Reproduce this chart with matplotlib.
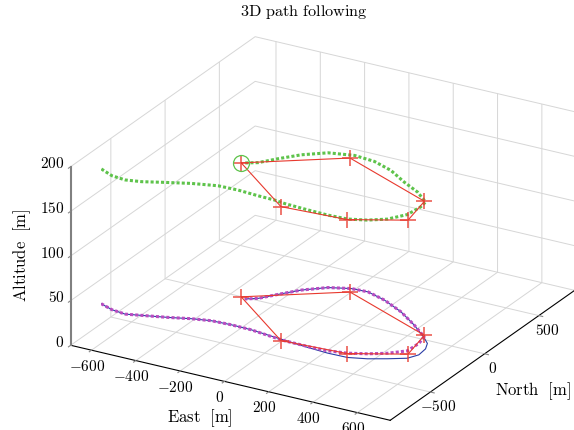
import matplotlib
matplotlib.use("Agg")
import matplotlib.pyplot as plt

plt.rcParams['mathtext.fontset'] = 'cm'
plt.rcParams['font.family'] = ['Liberation Serif', 'DejaVu Serif']

# waypoints (East, North) [m], closed loop
wp_east = [-135, 210, 497, 705, 670, 210, -135]
wp_north = [-440, -778, -752, -618, -395, -142, -440]
alt_low = 50
alt_high = 200

# flown path at high altitude
green_east = [-579, -511, -446, -382, -299, -204, -103, -15, 80, 156, 207, 301, 408, 495, 567,
              630, 676, 684, 677, 602, 509, 408, 309, 213, 111, 30, -30, -79, -122]
green_north = [-822, -864, -875, -854, -807, -756, -718, -714, -724, -728, -739, -747, -753, -746, -711,
               -655, -564, -459, -399, -320, -253, -169, -119, -106, -141, -222, -314, -399, -432]

# flown path at low altitude
mag_east = [-576, -511, -445, -370, -283, -198, -121, -34, 57, 157, 222, 328, 416, 495, 566,
            631, 687, 690, 676, 586, 478, 366, 270, 198, 114, 36, -22, -70, -112]
mag_north = [-830, -864, -877, -846, -810, -769, -743, -737, -740, -760, -771, -774, -770, -748, -708,
             -657, -587, -486, -410, -318, -219, -142, -99, -105, -149, -235, -331, -416, -452]

# reference path at low altitude
ref_east = [-576, -511, -445, -370, -283, -198, -121, -34, 57, 187, 333, 428, 516, 590, 657,
            722, 745, 739, 719, 680, 586, 478, 366, 270, 198, 114, 36, -22, -70, -112]
ref_north = [-830, -864, -877, -846, -810, -769, -743, -737, -740, -761, -783, -793, -790, -757, -711,
             -660, -600, -526, -468, -419, -318, -219, -142, -99, -105, -149, -235, -331, -416, -452]

east_ticks = [-600, -400, -200, 0, 200, 400, 600]
north_ticks = [-500, 0, 500]
alt_ticks = [0, 50, 100, 150, 200]

RED = '#e8392e'
GREEN = '#5ec34b'
MAGENTA = '#b94cc0'
BLUE = '#2b3da6'

fig = plt.figure(figsize=(5.74, 4.31), dpi=100)
ax = fig.add_axes([0.052, -0.046, 1.0, 1.0], projection='3d', proj_type='ortho', computed_zorder=False)
ax.view_init(elev=24, azim=-60)
ax.set_box_aspect((1, 1, 0.53), zoom=1.255)

ax.set_xlim(-694, 748)
ax.set_ylim(-870, 830)
ax.set_zlim(0, 200)

for axis in (ax.xaxis, ax.yaxis, ax.zaxis):
    axis.set_pane_color((1, 1, 1, 0))
    axis.pane.set_edgecolor((1, 1, 1, 0))
    axis._axinfo['grid'].update(color='#d6d6d6', linewidth=0.7)
    axis._axinfo['tick'].update(inward_factor=0.15, outward_factor=0.0)
ax.zaxis.set_ticks_position('lower')
ax.xaxis.line.set_color('black')
ax.yaxis.line.set_color('black')
ax.xaxis.line.set_linewidth(0.8)
ax.yaxis.line.set_linewidth(0.8)
ax.zaxis.line.set_color('#808080')
ax.zaxis.line.set_linewidth(1.5)
ax.tick_params(axis='both', color='#888888', labelsize=11)
ax.xaxis.set_tick_params(pad=-4)
ax.yaxis.set_tick_params(pad=-4)
ax.zaxis.set_tick_params(pad=-6)

ax.set_xticks(east_ticks, labels=[f'${t}$' for t in east_ticks])
ax.set_yticks(north_ticks, labels=[f'${t}$' for t in north_ticks])
ax.set_zticks(alt_ticks, labels=[f'${t}$' for t in alt_ticks])
for lab in ax.zaxis.get_ticklabels():
    lab.set_horizontalalignment('right')
    lab.set_verticalalignment('baseline')

dots = (0, (1, 0.7))
ax.plot(green_east, green_north, [alt_high] * len(green_east), color=GREEN, lw=2.2,
        linestyle=dots, zorder=3)
ax.plot(ref_east, ref_north, [alt_low] * len(ref_east), color=BLUE, lw=0.8, zorder=3)
ax.plot(mag_east, mag_north, [alt_low] * len(mag_east), color=MAGENTA, lw=2.2,
        linestyle=dots, zorder=4)
for alt in (alt_high, alt_low):
    ax.plot(wp_east, wp_north, [alt] * len(wp_east), color=RED, lw=0.8, zorder=5)
    ax.plot(wp_east[:-1], wp_north[:-1], [alt] * (len(wp_east) - 1), linestyle='none',
            marker='+', ms=11, mew=1.3, color=RED, alpha=0.75, zorder=6)
ax.plot([wp_east[0]], [wp_north[0]], [alt_high], marker='o', ms=11.5, mfc='none',
        mec=GREEN, mew=0.9, linestyle='none', zorder=7)

fig.text(0.53, 0.972, r'$\mathrm{3D\ path\ following}$', ha='center', va='center', fontsize=11.7)
fig.text(200 / 574, 1 - 418 / 431, r'$\mathrm{East\ \ [m]}$', ha='center', va='center', fontsize=12)
fig.text(533 / 574, 1 - 391 / 431, r'$\mathrm{North\ \ [m]}$', ha='center', va='center', fontsize=12)
fig.text(22 / 574, 1 - 255 / 431, r'$\mathrm{Altitude\ \ [m]}$', ha='center', va='center',
         fontsize=12, rotation=90)

fig.savefig('out.png', dpi=100)
